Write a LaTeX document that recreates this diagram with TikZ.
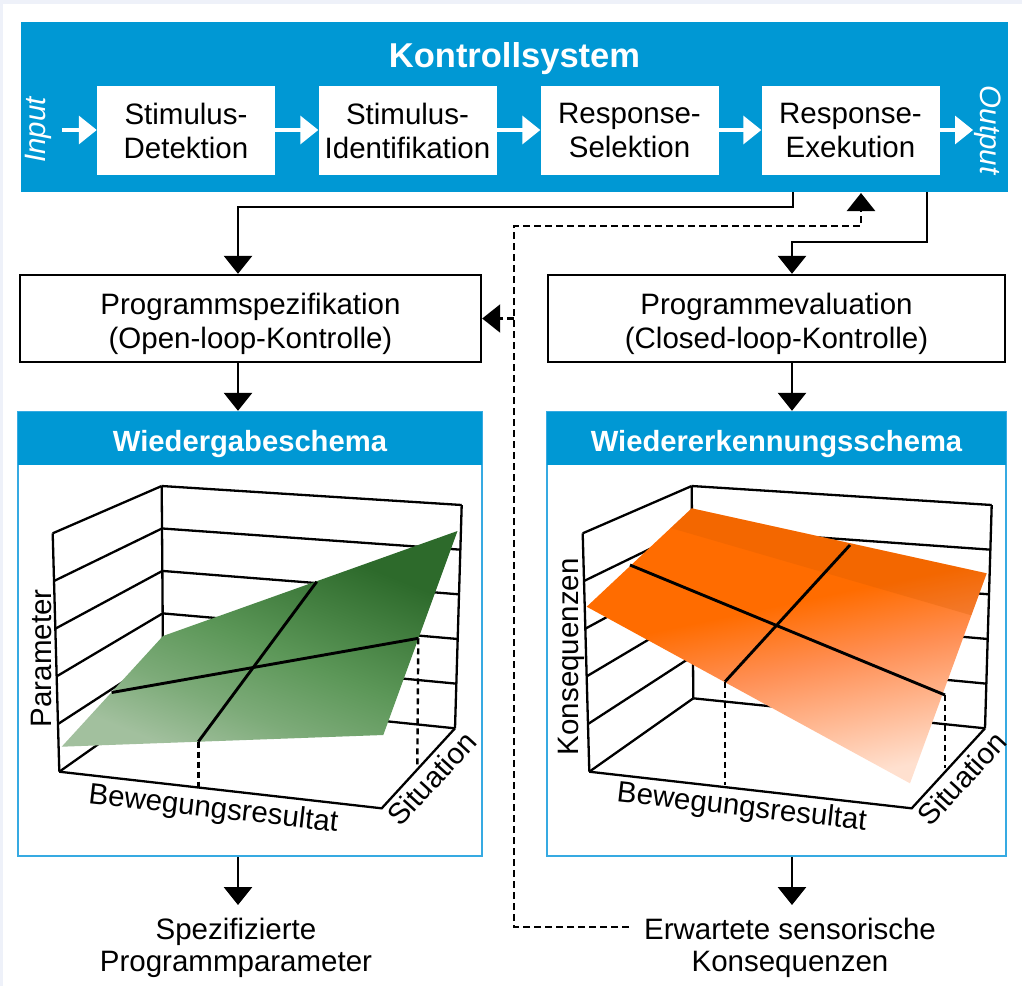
\documentclass[tikz,border=0pt]{standalone}
\usepackage{fontspec}
\setmainfont{Liberation Sans}
\usetikzlibrary{arrows.meta,calc}
\definecolor{ksblue}{HTML}{0098D4}
\definecolor{panelline}{HTML}{36AAE2}
\definecolor{pagebg}{HTML}{EEF1F9}
\definecolor{gLight}{HTML}{A2C09E}
\definecolor{gLM}{HTML}{7DAB79}
\definecolor{gMid}{HTML}{5C9758}
\definecolor{gDark}{HTML}{2D6A2B}
\definecolor{oTop}{HTML}{FF6C00}
\definecolor{oMid}{HTML}{FF8E52}
\definecolor{oLight}{HTML}{FFE0CF}
\pgfdeclareverticalshading{gfade}{100bp}{color(0bp)=(gLight); color(25bp)=(gLight); color(36bp)=(gLM); color(49bp)=(gMid); color(70bp)=(gDark); color(100bp)=(gDark)}
\pgfdeclareverticalshading{ofade}{100bp}{color(0bp)=(oLight); color(26bp)=(oLight); color(46bp)=(oMid); color(57bp)=(oTop); color(100bp)=(oTop)}
\tikzset{
  txt/.style={font=\fontsize{29.5}{34}\selectfont},
  procbox/.style={fill=white, minimum width=178pt, minimum height=89pt, inner sep=0pt, align=center, txt},
  progbox/.style={draw=black, line width=2.4pt, fill=white, inner sep=0pt, minimum height=87pt, align=center, txt},
  panel/.style={draw=panelline, line width=2.4pt, fill=white, minimum height=444pt},
  panelhead/.style={fill=ksblue, text=white, minimum height=53pt, inner sep=0pt, text height=25pt, text depth=0pt, font=\fontsize{29.2}{34}\selectfont\bfseries},
  wharr/.style={draw=white, line width=3.4pt, -{Triangle[width=28pt,length=18pt]}},
  conn/.style={draw=black, line width=2.9pt, -{Triangle[width=28pt,length=18pt]}},
  dconn/.style={conn, line width=2.5pt, dash pattern=on 7pt off 4pt},
  wire/.style={draw=black, line width=2.3pt},
  surfline/.style={draw=black, line width=2.9pt},
  surfdash/.style={draw=black, line width=2.4pt, dash pattern=on 6pt off 4pt},
  axlabel/.style={font=\fontsize{29.5}{34}\selectfont, inner sep=0pt},
}
\newcommand{\wireframe}{%
  \coordinate (BTL) at (161.7,486);
  \coordinate (BTR) at (461.7,505);
  \coordinate (BBR) at (455,728.3);
  \coordinate (BBL) at (163.3,698.3);
  \coordinate (LTF) at (52.7,533.3);
  \coordinate (LBF) at (59.3,771.7);
  \coordinate (FFR) at (381.7,808.3);
  \foreach \t in {0,0.2,0.4,0.6,0.8,1}{
    \draw[wire] ($(BTL)!\t!(BBL)$) -- ($(BTR)!\t!(BBR)$);
    \draw[wire] ($(LTF)!\t!(LBF)$) -- ($(BTL)!\t!(BBL)$);
  }
  \draw[wire] (LTF) -- (LBF);
  \draw[wire] (BTL) -- (BBL);
  \draw[wire] (BTR) -- (BBR);
  \draw[wire] (LBF) -- (FFR) -- (BBR);
}
\begin{document}
\begin{tikzpicture}[x=1pt,y=-1pt]
\useasboundingbox (0,0) rectangle (1022,986);
\fill[white] (0,0) rectangle (1022,986);
\fill[pagebg] (0,0) rectangle (1022,4);
\fill[pagebg] (0,0) rectangle (3,986);

% ---------- Kontrollsystem ----------
\node[fill=ksblue, minimum width=987pt, minimum height=170pt, inner sep=0pt] (ks) at (514.5,107) {};
\node[anchor=base, text=white, font=\fontsize{34.5}{40}\selectfont\bfseries] (kst) at (514.5,67) {Kontrollsystem};
\node[procbox] (e1) at (186,130.5) {Stimulus-\\Detektion};
\node[procbox] (e2) at (407.5,130.5) {Stimulus-\\Identifikation};
\node[procbox] (e3) at (629.5,130.5) {Response-\\Selektion};
\node[procbox] (e4) at (850.5,130.5) {Response-\\Exekution};
\node[rotate=90, text=white, font=\fontsize{29.5}{34}\selectfont\itshape, inner sep=0pt] (inp) at (38,130) {Input};
\node[rotate=-90, text=white, font=\fontsize{29.5}{34}\selectfont\itshape, inner sep=0pt] (outp) at (988,130) {Output};
\coordinate (inS) at (62,130);
\coordinate (outE) at (973,130);
\draw[wharr] (inS) -- (e1.west |- inS);
\draw[wharr] (e1.east |- inS) -- (e2.west |- inS);
\draw[wharr] (e2.east |- inS) -- (e3.west |- inS);
\draw[wharr] (e3.east |- inS) -- (e4.west |- inS);
\draw[wharr] (e4.east |- inS) -- (outE);

% ---------- Programm boxes ----------
\node[progbox, minimum width=461pt] (ps) at (250.5,318.5) {\rule{0pt}{33pt}Programmspezifikation\\(Open-loop-Kontrolle)};
\node[progbox, minimum width=457pt] (pe) at (776.5,318.5) {\rule{0pt}{33pt}Programmevaluation\\(Closed-loop-Kontrolle)};

% ---------- panels ----------
\node[panel, minimum width=464pt] (wg) at (250,634) {};
\node[panelhead, minimum width=464pt] (wgh) at (250,438.5) {Wiedergabeschema};
\node[panel, minimum width=459pt] (we) at (776.5,634) {};
\node[panelhead, minimum width=459pt] (weh) at (776.5,438.5) {Wiedererkennungsschema};

% ---------- connectors ----------
\coordinate (j1) at (793,207);
\coordinate (j2) at (238,207);
\coordinate (k1) at (927,242);
\coordinate (k2) at (792,242);
\draw[conn] (ks.south -| j1) -- (j1) -- (j2) -- (j2 |- ps.north);
\draw[conn] (ks.south -| k1) -- (k1) -- (k2) -- (k2 |- pe.north);
\draw[conn] (j2 |- ps.south) -- (j2 |- wg.north);
\draw[conn] (k2 |- pe.south) -- (k2 |- we.north);
\coordinate (b1) at (238,905);
\coordinate (b2) at (792,905);
\draw[conn] (j2 |- wg.south) -- (b1);
\draw[conn] (k2 |- we.south) -- (b2);

\node[align=center, font=\fontsize{29.5}{32}\selectfont, inner sep=0pt] (sp) at (236,948.3) {Spezifizierte\\Programmparameter};
\node[align=center, font=\fontsize{29.5}{32}\selectfont, inner sep=0pt] (ek) at (790,948.3) {Erwartete sensorische\\Konsequenzen};

\coordinate (d0) at (629,927);
\coordinate (d2) at (514,226);
\coordinate (d3) at (861,193);
\draw[dconn] (d0) -| (d2) -| (d3);
\draw[dconn] (d2 |- ps.east) -- (ps.east);

% ---------- left plot ----------
\begin{scope}
  \wireframe
  \coordinate (GFL) at (61.7,746.7);
  \coordinate (GFR) at (383.3,735);
  \coordinate (GBR) at (457.5,531);
  \coordinate (GBL) at (163,636);
  \shade[shading=gfade, shading angle=-22] (GFL) -- (GFR) -- (GBR) -- (GBL) -- cycle;
  \coordinate (g1a) at (111.7,692.5);
  \coordinate (g1b) at (418.3,638.3);
  \coordinate (g1c) at (417.3,766.7);
  \coordinate (g2a) at (198.3,741.7);
  \coordinate (g2b) at (316.7,581.7);
  \coordinate (g2c) at (198.3,786.7);
  \draw[surfline] (g1a) -- (g1b);
  \draw[surfline] (g2a) -- (g2b);
  \draw[surfdash] (g1b) -- (g1c);
  \draw[surfdash] (g2a) -- (g2c);
  \node[axlabel, rotate=90] (lp) at (41.7,658.3) {Parameter};
  \node[axlabel, rotate=-6.5] (lb) at (213.3,810) {Bewegungsresultat};
  \node[axlabel, rotate=47.5] (ls) at (431.7,778.3) {Situation};
\end{scope}

% ---------- right plot ----------
\begin{scope}[xshift=530pt]
  \wireframe
  \coordinate (OFL) at (56.7,606.7);
  \coordinate (OBL) at (161.7,508.3);
  \coordinate (OBR) at (456.7,573.3);
  \coordinate (OFR) at (380,783.3);
  \shade[shading=ofade, shading angle=12] (OFL) -- (OFR) -- (OBR) -- (OBL) -- cycle;
  \fill[fill=oTop!82!black, fill opacity=0.25] (OBL) -- (OBR) -- ($(OBR)!0.2!(OFR)$) -- ($(OBL)!0.2!(OFL)$) -- cycle;
  \coordinate (o1a) at (100,565);
  \coordinate (o1b) at (415,695);
  \coordinate (o1c) at (415,768.3);
  \coordinate (o2a) at (195,681.7);
  \coordinate (o2b) at (320,545);
  \coordinate (o2c) at (195,785);
  \draw[surfline] (o1a) -- (o1b);
  \draw[surfline] (o2a) -- (o2b);
  \draw[surfdash] (o1b) -- (o1c);
  \draw[surfdash] (o2a) -- (o2c);
  \node[axlabel, rotate=90] (rk) at (41.7,656.7) {Konsequenzen};
  \node[axlabel, rotate=-6.5] (rb) at (211.7,808.3) {Bewegungsresultat};
  \node[axlabel, rotate=47.5] (rs) at (431.7,778.3) {Situation};
\end{scope}
\end{tikzpicture}
\end{document}
